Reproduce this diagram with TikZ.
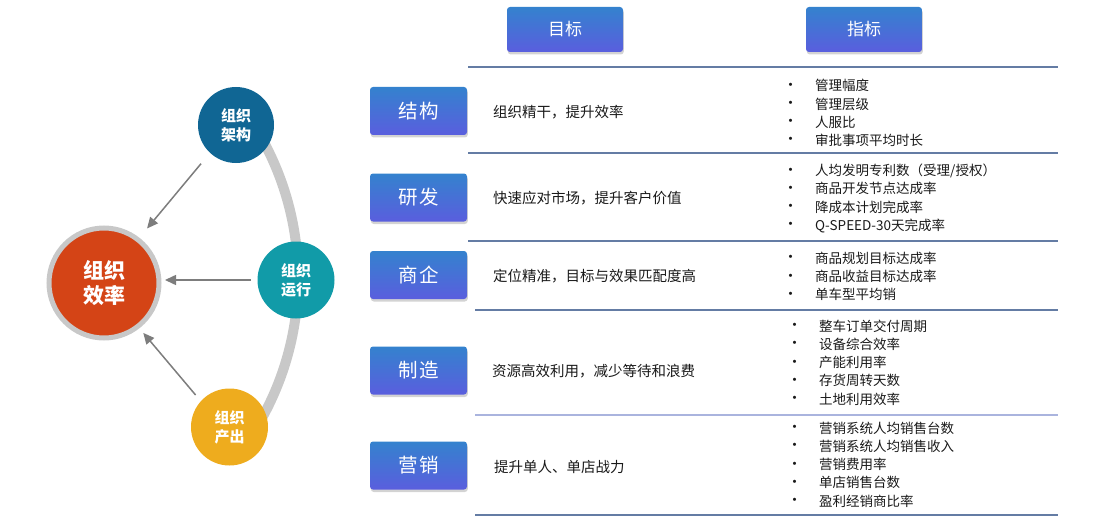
\documentclass[tikz,border=0pt]{standalone}
\usepackage{fontspec}
\setmainfont{Noto Sans CJK SC}
\usetikzlibrary{arrows.meta,shadows}
\definecolor{btop}{RGB}{52,130,206}
\definecolor{bbot}{RGB}{90,94,222}
\definecolor{cblue}{RGB}{16,102,148}
\definecolor{cteal}{RGB}{17,155,168}
\definecolor{cgold}{RGB}{238,172,30}
\definecolor{cred}{RGB}{212,68,22}
\definecolor{ringgray}{RGB}{200,200,200}
\definecolor{arrgray}{RGB}{125,125,125}
\definecolor{sepline}{RGB}{100,124,164}
\definecolor{seplight}{RGB}{170,180,222}
\definecolor{txt}{RGB}{25,25,25}
\newcommand{\bul}{\makebox[28pt][l]{\hspace{-4pt}\raisebox{0.5pt}{\fontsize{15}{15}\selectfont •}}}
\begin{document}
\begin{tikzpicture}[x=1pt,y=-1pt,
  btnbox/.style={rounded corners=3pt, top color=btop, bottom color=bbot, draw=none,
    text=white, drop shadow={shadow xshift=0.8pt, shadow yshift=-2.5pt, opacity=0.35},
    minimum width=97pt, minimum height=48pt, inner sep=0pt,
    font=\fontsize{19.5}{19.5}\selectfont},
  hdrbox/.style={btnbox, minimum width=116pt, minimum height=45pt,
    font=\fontsize{17}{17}\selectfont},
  smallc/.style={circle, minimum size=76pt, inner sep=0pt, text=white, align=center,
    font=\bfseries\fontsize{15}{19}\selectfont},
  arr/.style={draw=arrgray, line width=1.5pt, -{Triangle[length=11pt,width=10pt]}},
  sep/.style={draw=sepline, line width=1.6pt},
  goal/.style={anchor=west, inner sep=0pt, text=txt, font=\fontsize{14.5}{14.5}\selectfont},
  metric/.style={anchor=west, inner sep=0pt, text=txt, align=left,
    font=\fontsize{13.5}{18.2}\selectfont}
]
\useasboundingbox (0,0) rectangle (1108,532);

% ring arc behind circles
\coordinate (arcS) at (257,130);
\draw[ringgray, line width=10pt] (arcS) arc[start angle=-31, end angle=31, radius=288];

% circles
\node[circle, fill=cred, draw=ringgray, line width=5pt, minimum size=110pt, inner sep=0pt,
  text=white, align=center, font=\bfseries\fontsize{21}{25}\selectfont] (xl) at (104,283) {组织\\效率};
\node[smallc, fill=cblue] (jg) at (236,125) {组织\\架构};
\node[smallc, fill=cteal, minimum size=77pt] (yx) at (296,280) {组织\\运行};
\node[smallc, fill=cgold, minimum size=77pt] (cc) at (229.5,427) {组织\\产出};

% arrows
\draw[arr, shorten <=14pt, shorten >=12pt] (jg.-133.5) -- (xl.52);
\draw[arr, shorten <=6.5pt, shorten >=3.5pt] (yx.west) -- (yx.west -| xl.east);
\draw[arr, shorten <=8pt, shorten >=6pt] (cc.138) -- (xl.-52);

% header buttons
\node[hdrbox] (hgoal) at (565,29.5) {目标};
\node[hdrbox] (hmetric) at (864,29.5) {指标};

% separators
\draw[sep] (468,67) -- (1058,67);
\draw[sep] (468,153) -- (1058,153);
\draw[sep] (468,241) -- (1058,241);
\draw[sep] (475,310) -- (1058,310);
\draw[sep, draw=seplight] (475,415) -- (1058,415);
\draw[sep] (475,515) -- (1058,515);

% left buttons
\node[btnbox] (b1) at (418.5,111) {结\hspace{2pt}构};
\node[btnbox] (b2) at (418.5,197.5) {研\hspace{2pt}发};
\node[btnbox] (b3) at (418.5,275) {商\hspace{2pt}企};
\node[btnbox] (b4) at (418.5,370.5) {制\hspace{2pt}造};
\node[btnbox] (b5) at (418.5,465.5) {营\hspace{2pt}销};

% goals
\node[goal] (g1) at (493,112) {组织精干，提升效率};
\node[goal] (g2) at (493,198) {快速应对市场，提升客户价值};
\node[goal] (g3) at (493,276) {定位精准，目标与效果匹配度高};
\node[goal] (g4) at (492,371) {资源高效利用，减少等待和浪费};
\node[goal] (g5) at (494,467) {提升单人、单店战力};

% metrics
\node[metric] (m1) at (787,113) {\bul 管理幅度\\\bul 管理层级\\\bul 人服比\\\bul 审批事项平均时长};
\node[metric] (m2) at (787,198.5) {\bul 人均发明专利数（受理/授权）\\\bul 商品开发节点达成率\\\bul 降成本计划完成率\\\bul Q-SPEED-30天完成率};
\node[metric] (m3) at (787,276.5) {\bul 商品规划目标达成率\\\bul 商品收益目标达成率\\\bul 单车型平均销};
\node[metric] (m4) at (791,362.5) {\bul 整车订单交付周期\\\bul 设备综合效率\\\bul 产能利用率\\\bul 存货周转天数\\\bul 土地利用效率};
\node[metric] (m5) at (791,464.5) {\bul 营销系统人均销售台数\\\bul 营销系统人均销售收入\\\bul 营销费用率\\\bul 单店销售台数\\\bul 盈利经销商比率};
\end{tikzpicture}
\end{document}
